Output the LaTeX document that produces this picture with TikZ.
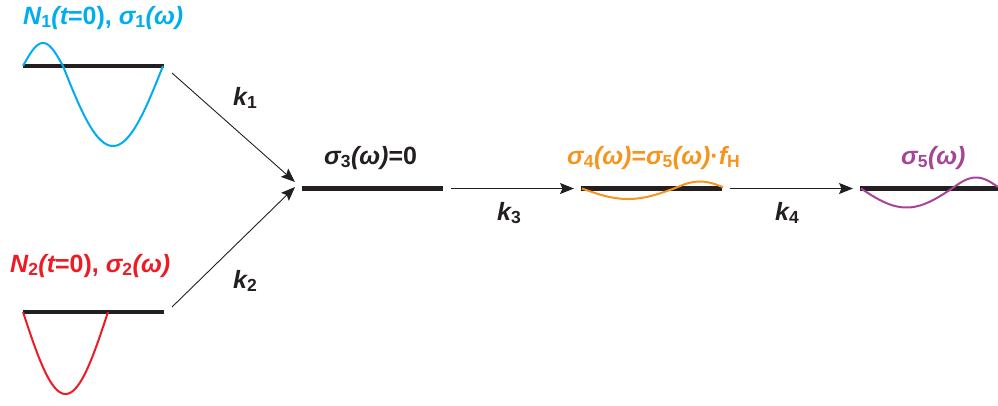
\documentclass[tikz,border=0pt]{standalone}
\usepackage{fontspec}
\setmainfont{Liberation Sans}
\usetikzlibrary{arrows.meta}
\definecolor{cblue}{RGB}{0,174,239}
\definecolor{cred}{RGB}{237,28,36}
\definecolor{corange}{RGB}{247,148,29}
\definecolor{cpurple}{RGB}{166,68,152}
\definecolor{barblack}{RGB}{35,31,32}
\newcommand{\lsub}[1]{\textsubscript{\upshape #1}}
\begin{document}
\begin{tikzpicture}[x=1pt,y=-1pt,
  bar/.style={line width=4.5pt, draw=barblack},
  arr/.style={line width=0.9pt, draw=barblack, -{Stealth[length=14pt,width=11pt,inset=2.5pt]}},
  lab/.style={font=\fontsize{25}{29}\selectfont\bfseries, inner sep=0pt, anchor=base west},
  wave/.style={line width=2pt}]
\useasboundingbox (0,0) rectangle (998,405);
% level bars
\coordinate (b1w) at (23,66);   \coordinate (b1e) at (164,66);
\coordinate (b2w) at (23,312);  \coordinate (b2e) at (164,312);
\coordinate (b3w) at (302,188.5); \coordinate (b3e) at (443,188.5);
\coordinate (b4w) at (581,188.5); \coordinate (b4e) at (722,188.5);
\coordinate (b5w) at (860,188.5); \coordinate (b5e) at (1000,188.5);
\draw[bar] (b1w) -- (b1e);
\draw[bar] (b2w) -- (b2e);
\draw[bar] (b3w) -- (b3e);
\draw[bar] (b4w) -- (b4e);
\draw[bar] (b5w) -- (b5e);
% waves
\draw[wave,cblue] plot[domain=23:63,samples=40] (\x,{66-23*sin(4.5*(\x-23))})
  -- plot[domain=63:163,samples=80] (\x,{66+80*sin(1.8*(\x-63))});
\draw[wave,cred] plot[domain=23:108,samples=60] (\x,{312+82*sin(2.1176*(\x-23))});
\draw[wave,corange] plot[domain=582:674,samples=50] (\x,{188.5+10.5*sin(1.9565*(\x-582))})
  -- plot[domain=674:723,samples=40] (\x,{188.5-7*sin(3.4615*(\x-674))});
\draw[wave,cpurple] plot[domain=861:952,samples=60] (\x,{188.5+19*sin(1.978*(\x-861))})
  -- plot[domain=952:998,samples=40] (\x,{188.5-11*sin(3.75*(\x-952))});
% labels
\node[lab,cblue] (n1) at (23,24) {\itshape N\lsub{1}(t\upshape=0), \itshape σ\lsub{1}(ω)};
\node[lab,cred] (n2) at (10,272) {\itshape N\lsub{2}(t\upshape=0), \itshape σ\lsub{2}(ω)};
\node[lab,barblack] (n3) at (324,164) {\itshape σ\lsub{3}(ω)\upshape=0};
\node[lab,corange] (n4) at (567,164) {\itshape σ\lsub{4}(ω)\upshape=\itshape σ\lsub{5}(ω)\upshape·\itshape f\lsub{H}};
\node[lab,cpurple] (n5) at (901,164) {\itshape σ\lsub{5}(ω)};
% arrows
\coordinate (a1s) at (172,73);  \coordinate (a1e) at (295,182);
\coordinate (a2s) at (172,307); \coordinate (a2e) at (295,187);
\coordinate (a3s) at (451,188.5); \coordinate (a3e) at (574,188.5);
\coordinate (a4s) at (730,188.5); \coordinate (a4e) at (853,188.5);
\draw[arr] (a1s) -- (a1e);
\draw[arr] (a2s) -- (a2e);
\draw[arr] (a3s) -- (a3e);
\draw[arr] (a4s) -- (a4e);
\node[lab,barblack] (k1) at (233,105) {\itshape k\lsub{1}};
\node[lab,barblack] (k2) at (233,288) {\itshape k\lsub{2}};
\node[lab,barblack] (k3) at (497,220) {\itshape k\lsub{3}};
\node[lab,barblack] (k4) at (775,220) {\itshape k\lsub{4}};
\end{tikzpicture}
\end{document}
